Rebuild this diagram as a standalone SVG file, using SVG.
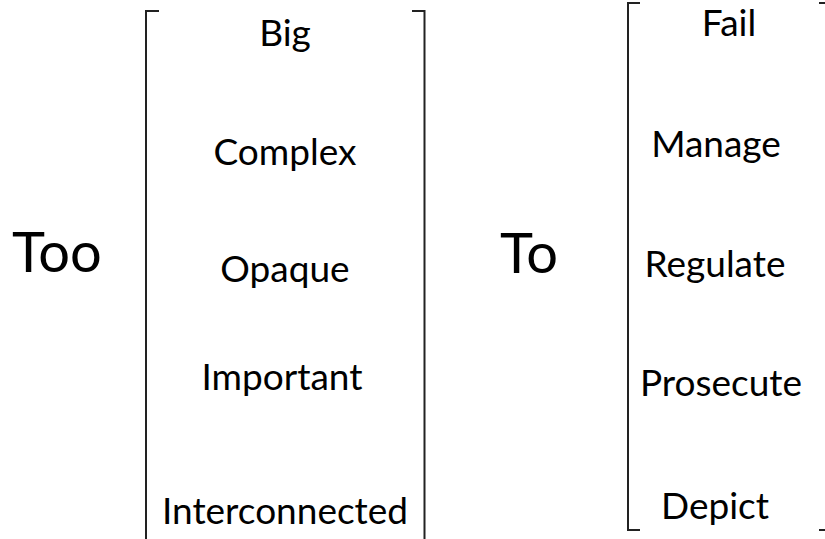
<svg xmlns="http://www.w3.org/2000/svg" width="825" height="539" viewBox="0 0 825 539">
<style>
.t{font-family:Lato,"Open Sans","Liberation Sans",sans-serif;font-size:37px;fill:#000;text-anchor:middle}
.big{font-family:Lato,"Open Sans","Liberation Sans",sans-serif;font-size:56px;fill:#000}
.br{fill:none;stroke:#222;stroke-width:2}
</style>
<rect width="825" height="539" fill="#fff"/>
<g id="brackets">
<path class="br" d="M159,11 H146 V539"/>
<path class="br" d="M412,11 H424.5 V539"/>
<path class="br" d="M640,3 H628 V530 H640"/>
<path class="br" d="M819,3 H826 M819,530 H826"/>
</g>
<g id="too"><text class="big" x="12" y="272">Too</text></g>
<g id="to"><text class="big" x="500" y="273">To</text></g>
<g id="big"><text class="t" x="285" y="46">Big</text></g>
<g id="complex"><text class="t" x="285" y="165">Complex</text></g>
<g id="opaque"><text class="t" x="285" y="282">Opaque</text></g>
<g id="important"><text class="t" x="282" y="390">Important</text></g>
<g id="interconnected"><text class="t" x="285" y="524">Interconnected</text></g>
<g id="fail"><text class="t" x="729" y="36">Fail</text></g>
<g id="manage"><text class="t" x="716" y="157">Manage</text></g>
<g id="regulate"><text class="t" x="715" y="277">Regulate</text></g>
<g id="prosecute"><text class="t" x="721" y="396">Prosecute</text></g>
<g id="depict"><text class="t" x="715" y="519">Depict</text></g>
</svg>
